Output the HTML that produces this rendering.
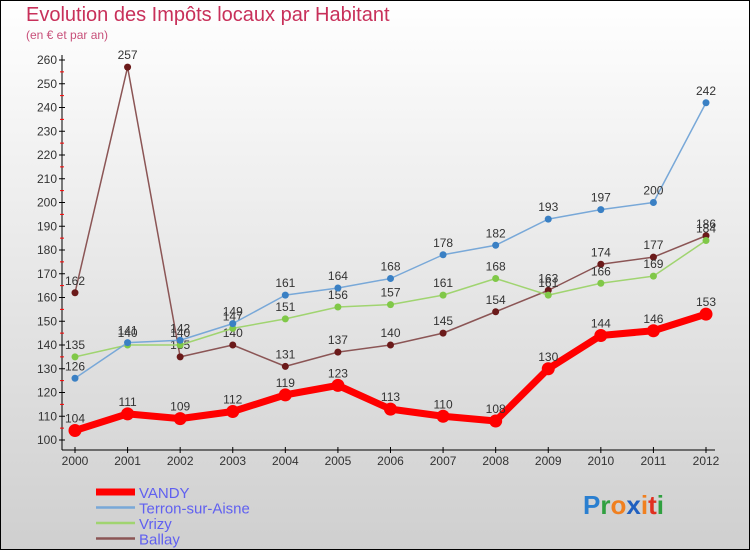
<!DOCTYPE html>
<html><head><meta charset="utf-8"><style>
body{margin:0}
#c{width:750px;height:550px;position:relative;overflow:hidden;background:linear-gradient(#ffffff,#cfcfcf);font-family:"Liberation Sans",sans-serif}
</style></head><body>
<div id="c">
<svg id="s" width="750" height="550" style="position:absolute;left:0;top:0">
<rect x="0.5" y="0.5" width="749" height="549" fill="none" stroke="#000"/>
<text x="26" y="21" font-size="20" fill="#c8305a">Evolution des Impôts locaux par Habitant</text>
<text x="26" y="39" font-size="12" fill="#c8507a">(en € et par an)</text>
<g id="axes"></g><g id="series"></g><g id="legend"></g>
<text x="583" y="514" font-size="26" font-weight="bold"><tspan fill="#2a7fd0">P</tspan><tspan fill="#30a040">r</tspan><tspan fill="#f08020">o</tspan><tspan fill="#2060c0">x</tspan><tspan fill="#f08020">i</tspan><tspan fill="#e03020">t</tspan><tspan fill="#30a040">i</tspan></text>
</svg>
</div>
<script>
const years=[2000,2001,2002,2003,2004,2005,2006,2007,2008,2009,2010,2011,2012];
const yTicks=[100,110,120,130,140,150,160,170,180,190,200,210,220,230,240,250,260];
const vandy=[104,111,109,112,119,123,113,110,108,130,144,146,153];
const terron=[126,141,142,149,161,164,168,178,182,193,197,200,242];
const vrizy=[135,140,140,147,151,156,157,161,168,161,166,169,184];
const ballay=[162,257,135,140,131,137,140,145,154,163,174,177,186];
const NS='http://www.w3.org/2000/svg';
function X(i){return 75+i*(706-75)/12;}
function Y(v){return 440-(v-100)*2.375;}
function mk(t,a,p){const e=document.createElementNS(NS,t);for(const k in a)e.setAttribute(k,a[k]);p.appendChild(e);return e;}
const ax=document.getElementById('axes');
let l=mk('line',{x1:62,y1:55,x2:62,y2:450,stroke:'#000'},ax);


l=mk('line',{x1:62,y1:450,x2:715,y2:450,stroke:'#000'},ax);


yTicks.forEach(v=>{
 const y=Y(v);
 mk('line',{x1:59,y1:y,x2:65,y2:y,stroke:'#000'},ax);
 if(v<260)mk('line',{x1:60,y1:y-11.875,x2:64,y2:y-11.875,stroke:'#f00'},ax);
 const t=mk('text',{x:57,y:y+4,'font-size':12,'text-anchor':'end',fill:'#333'},ax);
 t.textContent=v;
 
 
});
years.forEach((yr,i)=>{
 mk('line',{x1:X(i),y1:447,x2:X(i),y2:453,stroke:'#000'},ax);
 const t=mk('text',{x:X(i),y:465,'font-size':12,'text-anchor':'middle',fill:'#333'},ax);
 t.textContent=yr;
 
 
});
const series=[
 {name:'ballay',d:ballay,c:'#8b5555',m:'#6b1a1a',w:1.5,r:3.5},
 {name:'vrizy',d:vrizy,c:'#a0d470',m:'#80c848',w:1.5,r:3.5},
 {name:'terron',d:terron,c:'#78a8d8',m:'#3a80c4',w:1.5,r:3.5},
 {name:'vandy',d:vandy,c:'#ff0000',m:'#ff0000',w:7,r:6.5}];
const sg=document.getElementById('series');
series.forEach(s=>{
 const g=mk('g',{},sg);
 
 
 const p=mk('polyline',{points:s.d.map((v,i)=>X(i)+','+Y(v)).join(' '),fill:'none',stroke:s.c,'stroke-width':s.w,'stroke-linejoin':'round'},g);
 
 
 s.d.forEach((v,i)=>{
  const c=mk('circle',{cx:X(i),cy:Y(v),r:s.r,fill:s.m},g);
  
  
  const t=mk('text',{x:X(i),y:Y(v)-8,'font-size':12,'text-anchor':'middle',fill:'#333'},g);
  t.textContent=v;
  
  
 });
});
const lg=document.getElementById('legend');
[['VANDY','#ff0000',7],['Terron-sur-Aisne','#78a8d8',2.5],['Vrizy','#a0d470',2.5],['Ballay','#8b5555',2.5]].forEach((e,i)=>{
 const y=492+i*15.5;
 const g=mk('g',{},lg);
 
 
 mk('line',{x1:96,y1:y,x2:135,y2:y,stroke:e[1],'stroke-width':e[2]},g);
 const t=mk('text',{x:139,y:y+6,'font-size':15,fill:'#6060f0'},g);
 t.textContent=e[0];
});
</script>
</body></html>
